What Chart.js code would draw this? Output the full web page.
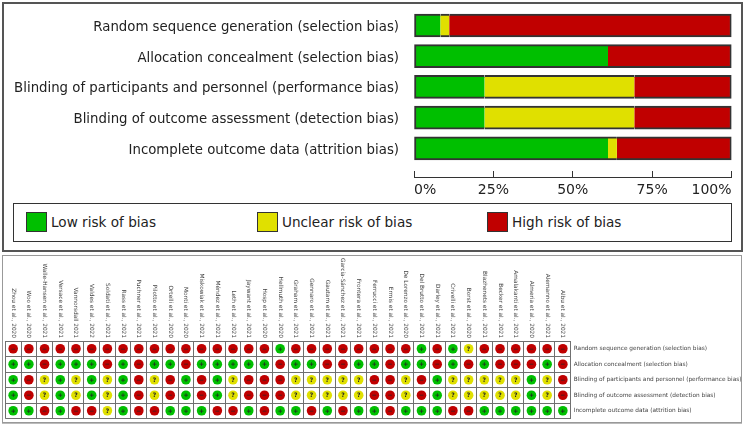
<!DOCTYPE html>
<html>
<head>
<meta charset="utf-8">
<script src="https://cdn.jsdelivr.net/npm/chart.js@4.4.1/dist/chart.umd.min.js"></script>
<style>
  * { box-sizing: border-box; }
  body { margin: 0; width: 745px; height: 426px; position: relative; overflow: hidden; background: #fff; font-family: "DejaVu Sans", sans-serif; }
  #topBox { position: absolute; left: 2px; top: 2px; width: 741px; height: 250px; border: 2px solid #555; }
  #bottomBox { position: absolute; left: 2px; top: 255px; width: 740px; height: 168px; border: 1px solid #999; box-shadow: 0 1px 0 #bbb; }
  canvas { position: absolute; left: 0; }
  #summary { top: 0; }
  #lights { top: 255px; }
  #legend { position: absolute; left: 13px; top: 203px; width: 719px; height: 39px; border: 1.5px solid #333; }
  .item { position: absolute; top: 8px; height: 21px; line-height: 21px; font-size: 13.6px; color: #222; white-space: nowrap; }
  .item span { display: inline-block; width: 21px; height: 20px; border: 1px solid #333; vertical-align: top; margin-right: 4px; }
</style>
</head>
<body>
<div id="topBox"></div>
<div id="bottomBox"></div>
<canvas id="summary" width="745" height="200"></canvas>
<canvas id="lights" width="745" height="170"></canvas>
<div id="legend">
  <div class="item" style="left:12px"><span style="background:#00bf00"></span>Low risk of bias</div>
  <div class="item" style="left:243px"><span style="background:#e0e000"></span>Unclear risk of bias</div>
  <div class="item" style="left:473px"><span style="background:#c00000"></span>High risk of bias</div>
</div>
<script>
'use strict';

const categories = ['Random sequence generation (selection bias)', 'Allocation concealment (selection bias)', 'Blinding of participants and personnel (performance bias)', 'Blinding of outcome assessment (detection bias)', 'Incomplete outcome data (attrition bias)'];
const lowPct = [8.3, 61.1, 22.2, 22.2, 61.1];
const unclearPct = [2.8, 0, 47.2, 47.2, 2.8];
const highPct = [88.9, 38.9, 30.6, 30.6, 36.1];
const xTicks = [0, 25, 50, 75, 100];

const studies = ['Zhou et al., 2020', 'Woo et al., 2020', 'Walle-Hansen et al., 2021', 'Versace et al., 2021', 'Vannorsdall 2021', 'Valdes et al., 2022', 'Soldati et al., 2021', 'Rass et al., 2021', 'Puchner et al., 2021', 'Pilotto et al., 2021', 'Ortelli et al., 2020', 'Monti et al., 2020',
  'Miskowiak et al., 2021', 'Méndez et al., 2021', 'Leth et al., 2021', 'Jaywant et al., 2021', 'Hosp et al., 2020', 'Hellmuth et al., 2020', 'Graham et al., 2021', 'Gennaro et al., 2021', 'Gautam et al., 2021', 'García-Sánchez et al., 2021', 'Frontera et al., 2021', 'Ferrucci et al., 2021',
  'Ermis et al., 2021', 'De Lorenzo et al., 2020', 'Del Brutto et al., 2021', 'Darley et al., 2021', 'Crivelli et al., 2021', 'Borst et al., 2020', 'Blazhenets et al., 2021', 'Becker et al., 2021', 'Amalakanti et al., 2021', 'Almeria et al., 2020', 'Alemanno et al., 2021', 'Albu et al., 2021'];

// L = low, U = unclear, H = high, one letter per study in the order above
const randomSeq  = ['H','H','H','H','H','H','H','H','H','H','H','H', 'H','H','H','H','H','L','H','H','H','H','H','H', 'H','H','L','H','L','U','H','H','H','H','H','H'];
const allocation = ['L','L','H','L','L','L','H','L','H','L','L','H', 'L','L','L','L','L','H','L','L','H','H','L','L', 'H','L','L','H','L','H','L','H','H','H','L','H'];
const blindPart  = ['L','H','U','L','U','L','U','L','H','U','H','L', 'H','L','U','H','H','H','U','U','U','U','U','H', 'H','U','H','L','U','U','U','U','U','L','U','H'];
const blindOut   = ['L','H','U','L','U','L','U','L','H','U','H','L', 'H','L','U','H','H','H','U','U','U','U','U','H', 'H','U','H','L','U','U','U','U','U','L','U','H'];
const incomplete = ['L','L','H','L','H','H','U','L','H','H','L','L', 'L','H','H','L','H','L','L','H','L','H','L','L', 'H','L','L','L','H','H','L','L','L','L','L','L'];
const domainRows = [randomSeq, allocation, blindPart, blindOut, incomplete];

const GREEN = '#00bf00';
const YELLOW = '#e0e000';
const RED = '#c00000';
const EDGE = '#333';

// summary bar chart
function rows(values) {
  return values.map((v, i) => ({ x: v, y: i }));
}

new Chart(document.getElementById('summary'), {
  type: 'bar',
  data: {
    datasets: [
      { label: 'Low risk of bias', data: rows(lowPct), backgroundColor: GREEN, borderColor: EDGE, borderWidth: { left: 2, top: 2, bottom: 2, right: 0 } },
      { label: 'Unclear risk of bias', data: rows(unclearPct), backgroundColor: YELLOW, borderColor: EDGE, borderWidth: { left: 0, top: 2, bottom: 2, right: 0 } },
      { label: 'High risk of bias', data: rows(highPct), backgroundColor: RED, borderColor: EDGE, borderWidth: { left: 0, top: 2, bottom: 2, right: 2 } }
    ]
  },
  options: {
    indexAxis: 'y',
    responsive: false,
    animation: false,
    barThickness: 23,
    borderSkipped: false,
    layout: { padding: { top: 10.15, right: 13.5, bottom: 0, left: 0 } },
    plugins: { legend: { display: false }, tooltip: { enabled: false } },
    scales: {
      y: {
        type: 'linear', reverse: true, min: -0.5, max: 4.935, stacked: true, offset: false,
        afterBuildTicks: s => { s.ticks = categories.map((c, i) => ({ value: i })); },
        afterFit: s => { s.width = 414; s.paddingTop = 0; s.paddingBottom = 0; },
        ticks: { callback: v => categories[v], padding: 15, labelOffset: 2, color: '#222', font: { family: 'DejaVu Sans', size: 13.3 } },
        grid: { display: false, drawTicks: false, offset: false },
        border: { display: false }
      },
      x: {
        type: 'linear', min: 0, max: 100, stacked: true,
        afterBuildTicks: s => { s.ticks = xTicks.map(v => ({ value: v })); },
        afterFit: s => { s.height = 23; },
        ticks: { callback: v => v + '%', align: 'inner', padding: 10.5, color: '#222', font: { family: 'DejaVu Sans', size: 14 } },
        grid: { drawOnChartArea: false, drawTicks: true, tickLength: -6, color: EDGE, lineWidth: 1 },
        border: { display: true, color: EDGE, width: 1 }
      }
    }
  }
});

// traffic light plot
const levels = [
  { code: 'L', color: GREEN, mark: '+' },
  { code: 'U', color: YELLOW, mark: '?' },
  { code: 'H', color: RED, mark: '−' }
];

const lightSets = levels.map(lv => {
  const pts = [];
  domainRows.forEach((row, d) => {
    row.forEach((c, s) => {
      if (c === lv.code) pts.push({ x: studies[s], y: categories[d] });
    });
  });
  return { label: lv.code, data: pts, backgroundColor: lv.color, pointRadius: 4.8, pointHoverRadius: 4.8, pointBorderWidth: 0, mark: lv.mark };
});

const lightLabels = {
  id: 'lightLabels',
  afterDatasetsDraw(chart) {
    const ctx = chart.ctx;
    ctx.save();
    ctx.font = 'bold 6px "DejaVu Sans"';
    ctx.textAlign = 'center';
    ctx.textBaseline = 'middle';
    ctx.fillStyle = '#222';
    chart.data.datasets.forEach((ds, i) => {
      chart.getDatasetMeta(i).data.forEach(pt => {
        ctx.fillText(ds.mark, pt.x, pt.y + 0.3);
      });
    });
    ctx.restore();
  },
  afterDraw(chart) {
    const ctx = chart.ctx;
    const xs = chart.scales.x;
    ctx.save();
    ctx.font = '5.8px "DejaVu Sans"';
    ctx.fillStyle = '#444';
    ctx.textAlign = 'right';
    ctx.textBaseline = 'middle';
    studies.forEach((name, i) => {
      ctx.save();
      ctx.translate(xs.getPixelForTick(i), chart.chartArea.top - 3);
      ctx.rotate(Math.PI / 2);
      ctx.fillText(name, 0, 0);
      ctx.restore();
    });
    ctx.restore();
  }
};

new Chart(document.getElementById('lights'), {
  type: 'scatter',
  data: { datasets: lightSets },
  options: {
    responsive: false,
    animation: false,
    layout: { padding: { top: 86, right: 0, bottom: 4.3, left: 5.3 } },
    plugins: { legend: { display: false }, tooltip: { enabled: false } },
    scales: {
      x: {
        type: 'category', labels: studies, position: 'top', offset: true,
        afterFit: s => { s.height = 0; },
        ticks: { display: false },
        grid: { offset: true, drawTicks: false, color: '#707070', lineWidth: 1 },
        border: { display: true, color: '#707070' }
      },
      y: {
        type: 'category', labels: categories, position: 'right', offset: true,
        afterFit: s => { s.width = 174.3; },
        ticks: { padding: 3, color: '#444', font: { family: 'DejaVu Sans', size: 5.8 } },
        grid: { offset: true, drawTicks: false, color: '#707070', lineWidth: 1 },
        border: { display: true, color: '#707070' }
      }
    }
  },
  plugins: [lightLabels]
});
</script>
</body>
</html>
